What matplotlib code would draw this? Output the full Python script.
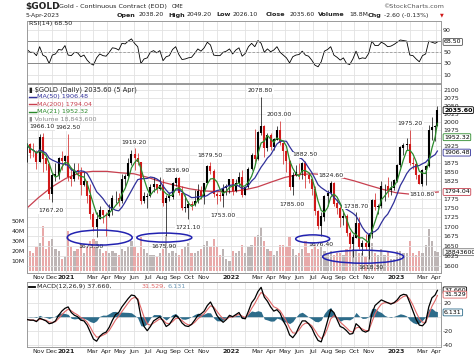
import numpy as np
import pandas as pd
import matplotlib
matplotlib.use("Agg")
import matplotlib.pyplot as plt
import matplotlib.dates as mdates
from matplotlib.patches import Ellipse
from matplotlib.lines import Line2D
from matplotlib.ticker import NullLocator
from matplotlib.transforms import IdentityTransform

plt.rcParams["font.family"] = "DejaVu Sans"

# ─── DATA (weekly bars, Oct 2020 .. 5 Apr 2023) ─────────────────────────
closes = [
    1930, 1906, 1905, 1880,  1951, 1889, 1872, 1788,  1840, 1843, 1889, 1883,
    1895, 1835, 1830, 1856, 1850,  1814, 1824, 1784, 1734,  1700, 1720, 1744, 1732,
    1729, 1744, 1777, 1777, 1768,  1831, 1838, 1876, 1903,  1891, 1879, 1769, 1781,
    1783, 1808, 1815, 1801, 1814,  1763, 1778, 1781, 1818,  1833, 1791, 1751, 1751,
    1761, 1757, 1768, 1796, 1784,  1818, 1868, 1852, 1788,  1784, 1783, 1805, 1811, 1829,
    1797, 1818, 1834, 1786,  1808, 1859, 1900, 1889,  1966, 1985, 1921, 1958,
    1924, 1945, 1974, 1934, 1911,  1882, 1808, 1842, 1851,  1850, 1875, 1840, 1830,
    1801, 1742, 1703, 1727, 1782,  1791, 1818, 1762, 1749,  1722, 1728, 1683, 1655, 1672,
    1709, 1648, 1657, 1648,  1681, 1771, 1754, 1755,  1810, 1810, 1800, 1804, 1826,
    1870, 1921, 1928, 1930,  1876, 1874, 1842, 1817,  1856, 1868, 1973, 1983, 1986,
    2035.6,
]
highs = [
    1935, 1935, 1935, 1915,  1962, 1966.1, 1895, 1875,  1848, 1875, 1895, 1910,
    1900, 1962.5, 1865, 1875, 1875,  1865, 1850, 1825, 1815,  1740, 1740, 1755, 1745,
    1740, 1760, 1785, 1798, 1790,  1845, 1845, 1890, 1915,  1919.2, 1905, 1880, 1795,
    1790, 1815, 1835, 1815, 1835,  1830, 1785, 1795, 1822,  1836.9, 1835, 1810, 1785,
    1770, 1770, 1800, 1815, 1810,  1820, 1870, 1879.5, 1860,  1795, 1795, 1815, 1815, 1830,
    1830, 1830, 1850, 1855,  1810, 1865, 1905, 1976,  1970, 2078.8, 1990, 1965,
    1965, 1950, 1985, 2003, 1935,  1915, 1885, 1850, 1870,  1875, 1880, 1882.5, 1850,
    1830, 1810, 1745, 1740, 1785,  1800, 1824.6, 1822, 1775,  1755, 1740, 1735, 1690, 1680,
    1738.7, 1725, 1665, 1680,  1685, 1775, 1790, 1760,  1825, 1815, 1835, 1825, 1830,
    1872, 1925, 1935, 1950,  1975.2, 1895, 1880, 1845,  1860, 1870, 1990, 2015, 1990,
    2049.2,
]
lows = [
    1880, 1890, 1895, 1860,  1880, 1850, 1855, 1775,  1767.2, 1825, 1830, 1855,
    1870, 1825, 1810, 1825, 1830,  1785, 1810, 1765, 1720,  1690, 1673.3, 1720, 1710,
    1677, 1725, 1730, 1765, 1755,  1765, 1808, 1835, 1870,  1855, 1870, 1761, 1765,
    1750, 1780, 1795, 1790, 1800,  1755, 1675.9, 1770, 1775,  1810, 1785, 1745, 1740,
    1721.1, 1745, 1755, 1765, 1775,  1760, 1815, 1845, 1780,  1760, 1770, 1753, 1785, 1790,
    1785, 1795, 1810, 1780,  1785, 1805, 1855, 1880,  1885, 1960, 1895, 1910,
    1915, 1915, 1945, 1930, 1872,  1850, 1800, 1785, 1840,  1830, 1830, 1805, 1820,
    1785, 1730, 1695, 1676.4, 1715,  1755, 1785, 1755, 1735,  1700, 1705, 1675, 1645, 1622,
    1670, 1642, 1627, 1640,  1618.3, 1670, 1745, 1735,  1750, 1770, 1780, 1785, 1800,
    1822, 1865, 1900, 1915,  1870, 1860, 1830, 1815,  1810.8, 1813, 1865, 1945, 1940,
    1985,
]
volume_m = [
    22, 20, 18, 24,  28, 45, 22, 30,  32, 22, 20, 12,
    14, 40, 24, 20, 22,  26, 18, 24, 30,  32, 30, 22, 18,
    20, 18, 20, 18, 16,  22, 20, 24, 30,  24, 18, 34, 22,
    18, 16, 16, 14, 18,  22, 36, 18, 20,  18, 16, 22, 24,
    28, 18, 18, 20, 22,  26, 30, 24, 32,  24, 16, 22, 12, 10,
    20, 18, 20, 26,  18, 24, 26, 34,  36, 44, 30, 22,
    20, 16, 20, 26, 26,  24, 34, 22, 16,  18, 22, 30, 18,
    22, 26, 22, 24, 20,  18, 20, 16, 18,  18, 16, 22, 24, 22,
    20, 18, 18, 14,  20, 28, 18, 16,  22, 16, 20, 12, 12,
    20, 20, 18, 18,  30, 18, 16, 20,  18, 26, 42, 30, 20,
    18.84,
]
rsi = [
    55, 50, 50, 44,  60, 45, 42, 30,  45, 47, 55, 54,
    62, 45, 44, 50, 49,  42, 45, 36, 30,  27, 40, 47, 44,
    43, 50, 58, 57, 54,  66, 65, 70, 74,  66, 60, 30, 38,
    40, 50, 53, 49, 53,  35, 42, 44, 55,  60, 46, 37, 38,
    40, 41, 48, 56, 52,  58, 68, 63, 45,  44, 44, 50, 52, 56,
    47, 54, 58, 43,  48, 60, 66, 60,  71, 66, 50, 56,
    51, 54, 60, 50, 45,  40, 31, 42, 45,  46, 52, 45, 43,
    36, 27, 24, 33, 52,  55, 60, 45, 41,  36, 40, 30, 28, 38,
    52, 38, 40, 39,  48, 70, 62, 62,  68, 65, 60, 61, 64,
    68, 72, 71, 70,  45, 44, 38, 33,  44, 47, 70, 68, 66,
    68.5,
]
macd = [
    -4, -5, -5, -7,  -2, -4, -6, -10,  -9, -6, 2, 8,
    12, 14, 6, 2, 0,  -5, -6, -12, -22,  -32, -35, -28, -24,
    -22, -15, -5, 3, 6,  14, 20, 26, 31,  30, 24, 0, -14,
    -20, -14, -6, -3, 0,  -6, -14, -11, -4,  2, -2, -9, -13,
    -14, -11, -5, 2, 4,  8, 16, 21, 12,  2, -4, -8, -4, 2,
    0, 3, 6, -2,  -3, 8, 20, 26,  36, 42, 28, 22,
    14, 8, 10, 5, -6,  -14, -26, -30, -24,  -14, -6, -6, -10,
    -16, -26, -34, -36, -22,  -6, 10, 6, -4,  -14, -16, -20, -25, -24,
    -10, -14, -20, -22,  -20, 4, 16, 20,  24, 22, 20, 18, 20,
    24, 30, 32, 31,  20, 8, -4, -12,  -13, -8, 14, 27, 31,
    37.66,
]
ma200_dates = [
    "2020-10-07", "2020-11-01", "2020-12-01", "2021-01-01", "2021-02-01", "2021-03-01",
    "2021-04-01", "2021-05-01", "2021-06-01", "2021-07-01", "2021-08-01", "2021-09-01",
    "2021-10-01", "2021-11-01", "2021-12-01", "2022-01-01", "2022-02-01", "2022-03-01",
    "2022-04-01", "2022-05-01", "2022-06-01", "2022-07-01", "2022-08-01", "2022-09-01",
    "2022-10-01", "2022-11-01", "2022-12-01", "2023-01-01", "2023-02-01", "2023-03-01",
    "2023-04-05",
]
ma200 = [
    1750, 1778, 1808, 1832, 1848, 1852, 1852, 1848, 1845, 1835, 1822, 1812,
    1803, 1797, 1795, 1795, 1800, 1808, 1822, 1835, 1843, 1845, 1842, 1835,
    1825, 1813, 1802, 1792, 1788, 1790, 1794.04,
]
peak_labels = [   # (date, price, label above the bar?)
    ("2020-11-09", 1966.10, True), ("2021-01-06", 1962.50, True),
    ("2020-11-30", 1767.20, False), ("2021-06-01", 1919.20, True),
    ("2021-09-03", 1836.90, True), ("2021-09-29", 1721.10, False),
    ("2021-11-16", 1879.50, True), ("2021-12-15", 1753.00, False),
    ("2022-03-08", 2078.80, True), ("2022-04-18", 2003.00, True),
    ("2022-05-16", 1785.00, False), ("2022-06-13", 1882.50, True),
    ("2022-08-10", 1824.60, True), ("2022-10-04", 1738.70, True),
    ("2023-02-02", 1975.20, True), ("2023-02-28", 1810.80, False),
]
circled_lows = [("2021-03-08", 1673.30), ("2021-08-09", 1675.90),
                ("2022-07-21", 1676.40), ("2022-11-03", 1618.30)]
month_labels = ["Nov", "Dec", "2021", "", "Mar", "Apr", "May", "Jun", "Jul", "Aug",
                "Sep", "Oct", "Nov", "", "2022", "", "Mar", "Apr", "May", "Jun", "Jul",
                "Aug", "Sep", "Oct", "Nov", "", "2023", "", "Mar", "Apr"]
price_ticks = list(range(1600, 2101, 25))
vol_ticks = [10, 20, 30, 40, 50]
rsi_ticks = [10, 30, 50, 70, 90]
macd_ticks = [-40, -20, 0, 20, 40]
# tick labels hidden behind the last-value boxes on the right
covered_ticks = {70, 1950, 1900, 1800, 40, 0}
header_items = [("Open", "2038.20"), ("High", "2049.20"), ("Low", "2026.10"),
                ("Close", "2035.60"), ("Volume", "18.8M"), ("Chg", "-2.60 (-0.13%)")]

# ─── STYLE / LAYOUT (pixels) ─────────────────────────────────────────────
W, H = 474, 359
NAVY, MA_RED, GREEN = "#30309a", "#c8404f", "#2a8a2a"
DOWN, HIST, CIRCLE = "#d01818", "#2d6c8a", "#2222b0"
GRID, FRAME, TXT = "#e2e2e2", "#9a9a9a", "#222222"
X0, X1 = 27, 441
FS = 4.5
# ellipse (dx, dy, w, h) and label offset (dx, dy) in pixels, relative to each circled low
ELLIPSES = [(4, 0.5, 65, 15), (-1, 1.5, 55, 9), (-9, 3, 34, 8), (-6, -2, 81, 13)]
CIRCLE_TXT = [(-5, 9), (-1, 10), (-1, 9), (2, 8.5)]
# header: x of each bold label and of its value
HEADER_X = [(117, 138.5), (168, 187), (216, 233), (266, 290), (318, 349), (368, 384)]

fig = plt.figure(figsize=(W / 100, H / 100), dpi=100)
fig.patch.set_facecolor("white")


def rect(top, bottom):
    return [X0 / W, 1 - bottom / H, (X1 - X0) / W, (bottom - top) / H]


def ftext(x, y, s, **kw):
    kw.setdefault("va", "center")
    kw.setdefault("fontsize", FS)
    kw.setdefault("color", TXT)
    fig.text(x / W, 1 - y / H, s, **kw)


def fline(x0, x1, y, color, lw=1.0):
    fig.add_artist(Line2D([x0 / W, x1 / W], [1 - y / H] * 2, color=color, lw=lw,
                          transform=fig.transFigure))


def tick_text(ticks):
    return ["" if t in covered_ticks else str(t) for t in ticks]


fridays = pd.date_range("2020-10-09", "2023-03-31", freq="W-FRI")
bar_dates = fridays.append(pd.DatetimeIndex(["2023-04-05"])) - pd.Timedelta(days=2)
x = mdates.date2num(bar_dates.values)
xlim = mdates.date2num(pd.DatetimeIndex(["2020-10-07", "2023-04-11"]).values)
months = mdates.date2num(pd.date_range("2020-11-01", "2023-04-01", freq="MS").values)

c = np.array(closes, dtype=float)
o = np.r_[c[0], c[:-1]]
up = c >= o
bar_col = np.where(up, "black", DOWN)


def style_panel(ax, show_dates):
    ax.set_xlim(*xlim)
    ax.set_xticks(months)
    ax.set_xticklabels(month_labels if show_dates else [])
    for lab in ax.get_xticklabels():
        if lab.get_text().isdigit():
            lab.set_fontweight("bold")
    ax.tick_params(axis="both", length=0, labelsize=FS, pad=1.5, colors=TXT)
    ax.yaxis.tick_right()
    ax.grid(True, axis="x", color=GRID, lw=0.6)
    ax.set_axisbelow(True)
    for sp in ax.spines.values():
        sp.set_color(FRAME)
        sp.set_linewidth(0.7)


def value_box(ax, val, text, color, bold=False, trans=None):
    ax.annotate(text, (1, val), xycoords=trans or ax.get_yaxis_transform(),
                xytext=(2.2, 0), textcoords="offset points", ha="left", va="center",
                fontsize=FS, color="black", fontweight="bold" if bold else "normal",
                annotation_clip=False, zorder=10,
                bbox=dict(boxstyle="round,pad=0.15", fc="white", ec=color, lw=0.6))


# ─── RSI PANEL ───────────────────────────────────────────────────────────
ax_rsi = fig.add_axes(rect(21, 83))
style_panel(ax_rsi, False)
ax_rsi.plot(x, rsi, color="black", lw=0.6)
ax_rsi.axhline(70, color="#888888", lw=0.7)
ax_rsi.axhline(30, color="#888888", lw=0.7)
ax_rsi.axhline(50, color="#999999", lw=0.6, ls=(0, (3, 2)))
ax_rsi.set_ylim(-5, 106)
ax_rsi.set_yticks(rsi_ticks, tick_text(rsi_ticks))
ax_rsi.grid(True, axis="y", color=GRID, lw=0.6)
value_box(ax_rsi, rsi[-1], f"{rsi[-1]:.2f}", "#555555")

# ─── PRICE PANEL (volume underneath) ─────────────────────────────────────
ax_vol = fig.add_axes(rect(84, 273))
style_panel(ax_vol, False)
vol_col = np.where(up, "#bdb5b5", "#e8a9a9")
ax_vol.bar(x, volume_m, width=5, color=vol_col, lw=0)
ax_vol.set_ylim(-2, 187)
ax_vol.yaxis.tick_left()
ax_vol.set_yticks(vol_ticks, [f"{v}M" for v in vol_ticks])
ax_vol.tick_params(axis="y", pad=1.5)

ax = fig.add_axes(rect(84, 273))
ax.patch.set_visible(False)
ax.set_yscale("log")
ax.set_ylim(1583, 2119.5)
style_panel(ax, True)
ax.grid(False, axis="x")
ax.yaxis.set_minor_locator(NullLocator())
ax.set_yticks(price_ticks, tick_text(price_ticks))
for t in price_ticks:
    ax.axhline(t, color=GRID, lw=0.6, zorder=0)

ma_x = mdates.date2num(pd.DatetimeIndex(ma200_dates).values)
ax.plot(ma_x, ma200, color=MA_RED, lw=0.9, zorder=2)
ax.vlines(x, lows, highs, colors=bar_col, lw=0.5, zorder=3)
ax.vlines(x, np.minimum(o, c), np.maximum(o, c) + 0.6, colors=bar_col, lw=1.5, zorder=3)
ma21 = pd.Series(closes).rolling(4, min_periods=1).mean()
ma50 = pd.Series(closes).rolling(10, min_periods=1).mean()
ax.plot(x, ma50, color=NAVY, lw=0.9, zorder=4)
ax.plot(x, ma21, color=GREEN, lw=0.9, zorder=4)

for d, p, above in peak_labels:
    ax.annotate(f"{p:.2f}", (mdates.date2num(pd.Timestamp(d)), p),
                xytext=(0, 4.3 if above else -6.5), textcoords="offset points",
                ha="center", va="center", fontsize=4.4, color=TXT, zorder=6,
                bbox=dict(boxstyle="square,pad=0.1", fc="white", ec="none"))

value_box(ax, closes[-1], f"{closes[-1]:.2f}", "black", bold=True)
value_box(ax, 1952.32, "1952.32", GREEN)
value_box(ax, 1906.48, "1906.48", NAVY)
value_box(ax, ma200[-1], f"{ma200[-1]:.2f}", MA_RED)
value_box(ax_vol, volume_m[-1], "18843600", "#777777",
          trans=ax_vol.get_yaxis_transform())

# circled lows (ellipses sized in pixels around each low)
for (d, p), (dx, dy, w, h), (tx, ty) in zip(circled_lows, ELLIPSES, CIRCLE_TXT):
    xd = mdates.date2num(pd.Timestamp(d))
    X, Y = ax.transData.transform((xd, p))
    fig.add_artist(Ellipse((X + dx, Y - dy), w, h, transform=IdentityTransform(),
                           fill=False, ec=CIRCLE, lw=1.1, zorder=8))
    ax.annotate(f"{p:.2f}", (xd, p), xytext=(tx * 0.72, -ty * 0.72),
                textcoords="offset points", ha="center", va="center",
                fontsize=4.4, color=TXT, zorder=7)

# ─── MACD PANEL ──────────────────────────────────────────────────────────
ax_m = fig.add_axes(rect(282, 347))
style_panel(ax_m, True)
macd_s = pd.Series(macd, dtype=float)
signal = macd_s.ewm(span=3, adjust=False).mean()
hist = macd_s - signal
ax_m.fill_between(x, 0, hist, color=HIST, lw=0, zorder=2)
ax_m.plot(x, signal, color="#e06666", lw=0.8, zorder=3)
ax_m.plot(x, macd, color="black", lw=0.9, zorder=4)
ax_m.set_ylim(-43.3, 49.6)
ax_m.set_yticks(macd_ticks, tick_text(macd_ticks))
ax_m.grid(True, axis="y", color=GRID, lw=0.6)
value_box(ax_m, 37.660, "37.660", "black")
value_box(ax_m, 31.529, "31.529", "#e06666")
value_box(ax_m, 6.131, "6.131", HIST)

# ─── HEADER AND PANEL LEGENDS ───────────────────────────────────────────
ftext(25, 6, "$GOLD", fontsize=6.5, fontweight="bold")
ftext(59, 6.5, "Gold - Continuous Contract (EOD)", fontsize=4.6)
ftext(172, 6.5, "CME", fontsize=4)
ftext(444, 6, "©StockCharts.com", fontsize=4.6, ha="right", color="#555555")
ftext(26, 15, "5-Apr-2023", fontsize=4.4)
for (lab, val), (xl, xv) in zip(header_items, HEADER_X):
    ftext(xl, 15, lab, fontsize=4.6, fontweight="bold")
    ftext(xv, 15, val, fontsize=4.4)
ftext(440, 15, "▼", fontsize=3.5, color=DOWN)

ftext(29, 24, "RSI(14) 68.50", fontsize=4.6)
ftext(29, 89.3, "▮ $GOLD (Daily) 2035.60 (5 Apr)", fontsize=4.8)
for yy, lab, col in [(96.7, "MA(50) 1906.48", NAVY), (104, "MA(200) 1794.04", MA_RED),
                     (111.7, "MA(21) 1952.32", GREEN)]:
    fline(29, 36, yy, col, 1.0)
    ftext(37, yy, lab, fontsize=4.6, color=col)
ftext(29, 118.7, "▮ Volume 18,843,600", fontsize=4.6, color="#8a8a8a")

fline(29, 35, 286.7, "black", 1.3)
ftext(37, 286.7, "MACD(12,26,9) 37.660,", fontsize=4.6)
ftext(142, 286.7, "31.529,", fontsize=4.6, color="#e06666")
ftext(167, 286.7, "6.131", fontsize=4.6, color="#6f9ab8")

fig.savefig("out.png", dpi=100)
